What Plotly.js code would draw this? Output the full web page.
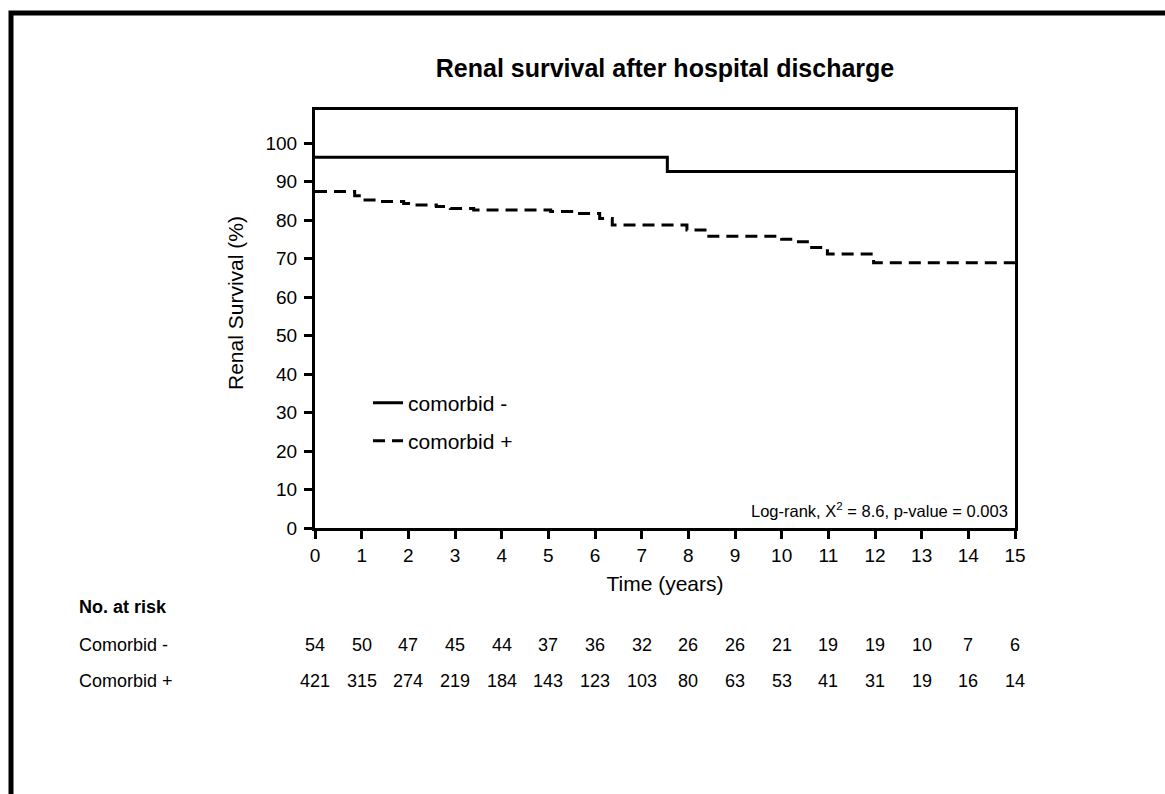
<!DOCTYPE html>
<html>
<head>
<meta charset="utf-8">
<script src="https://cdn.plot.ly/plotly-3.0.1.min.js"></script>
<style>html,body{margin:0;padding:0;background:#fff;}#chart{width:1165px;height:794px;}</style>
</head>
<body>
<div id="chart"></div>
<script>
// Data
const timeMinus = [0, 7.55, 15];
const survMinus = [96.3, 92.6, 92.6];
const timePlus = [0, 0.85, 1.0, 1.4, 1.9, 2.15, 2.6, 2.9, 3.4, 5.05, 5.5, 6.1, 6.37, 7.97, 8.4, 10.0, 10.26, 10.55, 10.98, 11.97, 15];
const survPlus = [87.4, 86.3, 85.2, 84.8, 84.3, 83.9, 83.5, 83.0, 82.6, 82.2, 81.7, 80.4, 78.7, 77.4, 75.8, 75.0, 74.4, 72.9, 71.2, 68.9, 68.9];
const riskYears = [0,1,2,3,4,5,6,7,8,9,10,11,12,13,14,15];
const riskMinus = [54,50,47,45,44,37,36,32,26,26,21,19,19,10,7,6];
const riskPlus = [421,315,274,219,184,143,123,103,80,63,53,41,31,19,16,14];
const seriesNames = ['comorbid -', 'comorbid +'];
const rowLabels = ['Comorbid -', 'Comorbid +'];

const FONT = 'Liberation Sans, Arial, Helvetica, sans-serif';
const plotTop = 110, plotBottom = 528, plotLeft = 315, plotRight = 1015;
const ph = plotBottom - plotTop, pw = plotRight - plotLeft;
const py = p => (plotBottom - p) / ph;   // pixel y -> paper y
const px = p => (p - plotLeft) / pw;     // pixel x -> paper x

const traces = [
  {x: timeMinus, y: survMinus, name: seriesNames[0], mode: 'lines', legend: 'legend',
   line: {shape: 'hv', color: '#000', width: 3}},
  {x: timePlus, y: survPlus, name: seriesNames[1], mode: 'lines', legend: 'legend2',
   line: {shape: 'hv', color: '#000', width: 3, dash: '12px,7px'}}
];

const tfont = (s) => ({family: FONT, size: s, color: '#000'});
const annotations = [];
riskYears.forEach((t, i) => {
  annotations.push({x: t, xref: 'x', y: py(645), yref: 'paper', text: String(riskMinus[i]),
    showarrow: false, xanchor: 'center', yanchor: 'middle', font: tfont(18)});
  annotations.push({x: t, xref: 'x', y: py(681), yref: 'paper', text: String(riskPlus[i]),
    showarrow: false, xanchor: 'center', yanchor: 'middle', font: tfont(18)});
});
annotations.push({x: px(77), xref: 'paper', y: py(607), yref: 'paper', text: '<b>No. at risk</b>',
  showarrow: false, xanchor: 'left', yanchor: 'middle', font: tfont(18)});
annotations.push({x: px(77), xref: 'paper', y: py(645), yref: 'paper', text: rowLabels[0],
  showarrow: false, xanchor: 'left', yanchor: 'middle', font: tfont(18)});
annotations.push({x: px(77), xref: 'paper', y: py(681), yref: 'paper', text: rowLabels[1],
  showarrow: false, xanchor: 'left', yanchor: 'middle', font: tfont(18)});
annotations.push({x: px(1010), xref: 'paper', y: py(510), yref: 'paper',
  text: 'Log-rank, X<sup>2</sup> = 8.6, p-value = 0.003',
  showarrow: false, xanchor: 'right', yanchor: 'middle', font: tfont(16.5)});
annotations.push({x: px(235), xref: 'paper', y: py(303), yref: 'paper', text: 'Renal Survival (%)',
  textangle: -90, showarrow: false, xanchor: 'center', yanchor: 'middle', font: tfont(21)});

const legendBase = {xanchor: 'left', yanchor: 'middle', bgcolor: 'rgba(0,0,0,0)',
  font: tfont(21), itemwidth: 30};

const layout = {
  width: 1165, height: 794,
  margin: {l: plotLeft, r: 1165 - plotRight, t: plotTop, b: 794 - plotBottom, pad: 0},
  paper_bgcolor: '#fff', plot_bgcolor: '#fff',
  font: {family: FONT, color: '#000'},
  title: {text: '<b>Renal survival after hospital discharge</b>', font: tfont(25),
    x: 0.5, xref: 'paper', y: 1 - 68/794, yref: 'container', yanchor: 'middle'},
  xaxis: {range: [0, 15], dtick: 1, tick0: 0, showgrid: false, zeroline: false,
    showline: true, linewidth: 3, linecolor: '#000', mirror: true,
    ticks: 'outside', ticklen: 8, tickwidth: 3, tickcolor: '#000',
    tickfont: tfont(19),
    title: {text: 'Time (years)', font: tfont(21), standoff: 12}},
  yaxis: {range: [0, 108.6], dtick: 10, tick0: 0, showgrid: false, zeroline: false,
    showline: true, linewidth: 3, linecolor: '#000', mirror: true,
    ticks: 'outside', ticklen: 8, tickwidth: 3, tickcolor: '#000',
    tickfont: tfont(19), ticklabelstandoff: 3},
  showlegend: true,
  legend: Object.assign({x: px(368), y: py(403)}, legendBase),
  legend2: Object.assign({x: px(368), y: py(441)}, legendBase),
  annotations: annotations,
  shapes: [{type: 'rect', xref: 'paper', yref: 'paper',
    x0: px(11), x1: px(1200), y0: py(13), y1: py(860),
    line: {color: '#000', width: 5}, fillcolor: 'rgba(0,0,0,0)', layer: 'above'}]
};

Plotly.newPlot('chart', traces, layout, {displayModeBar: false, staticPlot: true});
</script>
</body>
</html>
